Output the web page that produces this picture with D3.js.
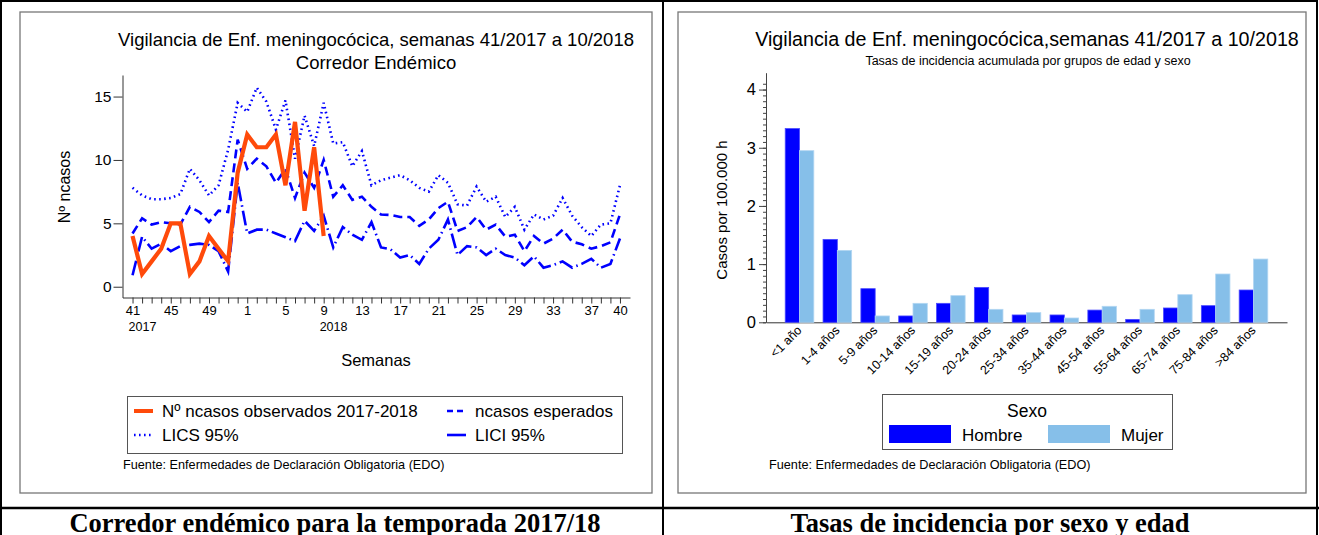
<!DOCTYPE html>
<html>
<head>
<meta charset="utf-8">
<script src="https://cdn.jsdelivr.net/npm/d3@7"></script>
<style>
  body { margin: 0; background: #fff; }
  svg { display: block; font-family: "Liberation Sans", Arial, sans-serif; }
</style>
</head>
<body>
<div id="chart"></div>
<script>
// semanas 41/2017 a 40/2018
var weeks = ["41","42","43","44","45","46","47","48","49","50","51","52",
  "1","2","3","4","5","6","7","8","9","10","11","12","13","14","15","16","17","18","19","20",
  "21","22","23","24","25","26","27","28","29","30","31","32","33","34","35","36","37","38","39","40"];
var weekLabels = ["41","45","49","1","5","9","13","17","21","25","29","33","37","40"];

// casos observados (semanas 41/2017 a 9/2018)
var observados = [4,1,2,3,5,5,1,2,4,3,2,9,12,11,11,12,8,13,6,11,4];
// casos esperados
var esperados = [4.2,5.4,4.9,5.1,5.0,4.9,6.3,5.9,5.1,6.0,5.9,11.6,9.3,10.1,9.5,8.2,9.3,7.0,9.0,7.8,10.0,
  7.1,8.0,6.85,7.1,6.3,5.7,5.66,5.5,5.5,4.8,5.3,6.2,6.7,4.4,4.7,5.5,4.5,4.9,3.95,4.1,2.8,4.0,3.4,3.8,4.5,3.55,3.35,3.0,3.2,3.5,5.7];
// limite superior IC 95%
var lics = [7.8,7.2,6.9,6.9,7.0,7.3,9.3,8.4,7.2,8.0,10.8,14.5,13.8,15.7,14.6,12.4,14.7,10.1,13.5,11.1,14.5,
  11.3,11.4,9.5,10.7,8.0,8.4,8.6,8.8,8.4,7.8,7.5,8.8,8.2,6.5,6.4,7.9,6.7,7.1,5.5,6.3,4.5,5.7,5.3,5.6,7.0,5.6,4.7,4.0,4.9,5.0,8.0];
// limite inferior IC 95%
var lici = [0.9,3.95,3.0,3.4,2.8,3.2,3.3,3.4,3.3,2.8,1.2,8.2,4.2,4.5,4.5,4.2,3.9,3.6,5.2,4.4,5.6,
  3.1,4.7,4.1,3.7,5.1,3.1,2.95,2.3,2.5,1.8,3.0,3.7,5.3,2.5,3.2,3.1,2.5,3.0,2.5,2.3,1.7,2.4,1.5,1.7,2.0,1.5,1.8,2.2,1.5,1.8,3.8];

// tasas por grupos de edad y sexo
var edades = ["<1 año","1-4 años","5-9 años","10-14 años","15-19 años","20-24 años","25-34 años",
  "35-44 años","45-54 años","55-64 años","65-74 años","75-84 años",">84 años"];
var hombre = [3.33,1.425,0.578,0.109,0.326,0.60,0.126,0.126,0.21,0.05,0.246,0.286,0.555];
var mujer = [2.95,1.236,0.109,0.326,0.458,0.223,0.166,0.074,0.275,0.223,0.475,0.83,1.087];
var sexos = ["Hombre","Mujer"];

var width = 1319;
var height = 535;
var blue = "#0000ff";
var lightBlue = "#86bfe9";
var orange = "#ff4a0a";

var svg = d3.select("#chart")
  .append("svg")
  .attr("width", width)
  .attr("height", height);

// table frame
svg.append("rect").attr("x", 1).attr("y", 1).attr("width", width - 3).attr("height", height + 5)
  .attr("fill", "none").attr("stroke", "#000").attr("stroke-width", 2);
svg.append("line").attr("x1", 663).attr("x2", 663).attr("y1", 0).attr("y2", height)
  .attr("stroke", "#000").attr("stroke-width", 2);
svg.append("line").attr("x1", 0).attr("x2", width).attr("y1", 508).attr("y2", 508)
  .attr("stroke", "#000").attr("stroke-width", 2.5);

// panels
svg.append("rect").attr("x", 20).attr("y", 12).attr("width", 632).attr("height", 481)
  .attr("fill", "#fff").attr("stroke", "#777").attr("stroke-width", 1.3);
svg.append("rect").attr("x", 678).attr("y", 12).attr("width", 628).attr("height", 481)
  .attr("fill", "#fff").attr("stroke", "#777").attr("stroke-width", 1.3);

// captions
svg.append("text").attr("x", 335).attr("y", 532).attr("text-anchor", "middle")
  .style("font-family", "'Liberation Serif', 'Times New Roman', serif")
  .style("font-weight", "bold").style("font-size", "26.5px")
  .text("Corredor endémico para la temporada 2017/18");
svg.append("text").attr("x", 990).attr("y", 532).attr("text-anchor", "middle")
  .style("font-family", "'Liberation Serif', 'Times New Roman', serif")
  .style("font-weight", "bold").style("font-size", "26.5px")
  .text("Tasas de incidencia por sexo y edad");

// ---------- left chart: corredor endemico ----------
var x = d3.scalePoint()
  .domain(weeks)
  .range([122.5, 630])
  .padding(1.05);
var y = d3.scaleLinear()
  .domain([-0.85, 16.7])
  .range([297.5, 75]);

var left = svg.append("g");

left.append("text").attr("x", 376).attr("y", 46).attr("text-anchor", "middle")
  .style("font-size", "18.5px").text("Vigilancia de Enf. meningocócica, semanas 41/2017 a 10/2018");
left.append("text").attr("x", 376).attr("y", 69).attr("text-anchor", "middle")
  .style("font-size", "18.5px").text("Corredor Endémico");

var xAxis = d3.axisBottom(x)
  .tickValues(weeks)
  .tickSize(6)
  .tickSizeOuter(0)
  .tickPadding(2)
  .tickFormat(d => weekLabels.includes(d) ? d : "");
left.append("g")
  .attr("transform", "translate(0,297.5)")
  .call(xAxis)
  .call(g => g.selectAll("text").style("font-size", "13px").attr("fill", "#000"))
  .call(g => g.selectAll("line, path").attr("stroke", "#333"));

var yAxis = d3.axisLeft(y)
  .tickValues([0, 5, 10, 15])
  .tickSize(9)
  .tickSizeOuter(0)
  .tickPadding(2);
left.append("g")
  .attr("transform", "translate(122.5,0)")
  .call(yAxis)
  .call(g => g.selectAll("text").style("font-size", "15.5px").attr("fill", "#000"))
  .call(g => g.selectAll("line, path").attr("stroke", "#333"));

// year labels under the axis
left.append("text").attr("x", x("41") - 4).attr("y", 331).style("font-size", "12.5px").text("2017");
left.append("text").attr("x", x("9") - 4).attr("y", 331).style("font-size", "12.5px").text("2018");

left.append("text").attr("x", 376).attr("y", 366).attr("text-anchor", "middle")
  .style("font-size", "16.5px").text("Semanas");
left.append("text").attr("transform", "translate(70,187) rotate(-90)").attr("text-anchor", "middle")
  .style("font-size", "16px").text("Nº ncasos");

var line = d3.line()
  .x((d, i) => x(weeks[i]))
  .y(d => y(d));

left.append("path").datum(lics).attr("d", line).attr("fill", "none")
  .attr("stroke", blue).attr("stroke-width", 2.6).attr("stroke-dasharray", "1.6,3.4");
left.append("path").datum(esperados).attr("d", line).attr("fill", "none")
  .attr("stroke", blue).attr("stroke-width", 2.6).attr("stroke-dasharray", "9,5");
left.append("path").datum(lici).attr("d", line).attr("fill", "none")
  .attr("stroke", blue).attr("stroke-width", 2.6).attr("stroke-dasharray", "15,4,1.5,4");
left.append("path").datum(observados).attr("d", line).attr("fill", "none")
  .attr("stroke", orange).attr("stroke-width", 4.2).attr("stroke-linejoin", "miter");

// legend
var leg = left.append("g");
leg.append("rect").attr("x", 127.5).attr("y", 396.5).attr("width", 495).attr("height", 57)
  .attr("fill", "#fff").attr("stroke", "#555");
var legItems = [
  { label: "Nº ncasos observados 2017-2018", color: orange, w: 4, dash: null, lx: 134, ly: 411 },
  { label: "ncasos esperados", color: blue, w: 2.6, dash: "6,4", lx: 447, ly: 411 },
  { label: "LICS 95%", color: blue, w: 2.6, dash: "1.6,3.4", lx: 134, ly: 435 },
  { label: "LICI 95%", color: blue, w: 2.6, dash: null, lx: 447, ly: 435 }
];
legItems.forEach(function (d) {
  leg.append("line").attr("x1", d.lx).attr("x2", d.lx + 19).attr("y1", d.ly).attr("y2", d.ly)
    .attr("stroke", d.color).attr("stroke-width", d.w).attr("stroke-dasharray", d.dash);
  leg.append("text").attr("x", d.lx + 28).attr("y", d.ly + 6).style("font-size", "17px").text(d.label);
});
left.append("text").attr("x", 123).attr("y", 469).style("font-size", "12.7px")
  .text("Fuente: Enfermedades de Declaración Obligatoria (EDO)");

// ---------- right chart: tasas por edad y sexo ----------
var xb = d3.scaleBand()
  .domain(edades)
  .range([766, 1287])
  .paddingInner(0.244)
  .paddingOuter(0.508);
var xs = d3.scaleBand()
  .domain(sexos)
  .range([0, xb.bandwidth()]);
var yb = d3.scaleLinear()
  .domain([0, 4.29])
  .range([322.3, 72.7]);

var right = svg.append("g");

right.append("text").attr("x", 1027).attr("y", 46).attr("text-anchor", "middle")
  .style("font-size", "19.7px").text("Vigilancia de Enf. meningocócica,semanas 41/2017 a 10/2018");
right.append("text").attr("x", 1028).attr("y", 65).attr("text-anchor", "middle")
  .style("font-size", "12.5px").text("Tasas de incidencia acumulada por grupos de edad y sexo");

// minor ticks
right.append("g")
  .attr("transform", "translate(766,0)")
  .call(d3.axisLeft(yb).tickValues(d3.range(0, 42).map(d => d / 10)).tickSize(3).tickFormat(""))
  .call(g => g.select("path").remove())
  .call(g => g.selectAll("line").attr("stroke", "#444"));
right.append("g")
  .attr("transform", "translate(766,0)")
  .call(d3.axisLeft(yb).tickValues([0, 1, 2, 3, 4]).tickFormat(d3.format("d"))
    .tickSize(7).tickSizeOuter(0).tickPadding(3))
  .call(g => g.selectAll("text").style("font-size", "16.5px").attr("fill", "#000"))
  .call(g => g.selectAll("line, path").attr("stroke", "#444"));

right.append("g")
  .attr("transform", "translate(0,322.3)")
  .call(d3.axisBottom(xb).tickSize(0).tickSizeOuter(0).tickFormat(""))
  .call(g => g.select("path").attr("stroke", "#333"));

right.selectAll(".xlab")
  .data(edades)
  .enter()
  .append("text")
  .attr("class", "xlab")
  .attr("text-anchor", "end")
  .attr("transform", d => `translate(${xb(d) + xb.bandwidth() / 2 + 3},${331}) rotate(-45)`)
  .style("font-size", "12.5px")
  .text(d => d);

right.append("text").attr("transform", "translate(727,210) rotate(-90)").attr("text-anchor", "middle")
  .style("font-size", "15px").text("Casos por 100.000 h");

var groups = right.selectAll(".grp")
  .data(edades.map((d, i) => ({ edad: d, values: [hombre[i], mujer[i]] })))
  .enter()
  .append("g")
  .attr("transform", d => `translate(${xb(d.edad)},0)`);
groups.selectAll("rect")
  .data(d => d.values.map((v, j) => ({ sexo: sexos[j], v: v })))
  .enter()
  .append("rect")
  .attr("x", d => xs(d.sexo))
  .attr("y", d => yb(d.v))
  .attr("width", xs.bandwidth())
  .attr("height", d => yb(0) - yb(d.v))
  .attr("fill", d => d.sexo === "Hombre" ? blue : lightBlue)
  .attr("stroke", d => d.sexo === "Hombre" ? "#4a4aff" : "#b2d6f2")
  .attr("stroke-width", 0.8);

// legend
var leg2 = right.append("g");
leg2.append("rect").attr("x", 882.5).attr("y", 394.5).attr("width", 290).attr("height", 55)
  .attr("fill", "#fff").attr("stroke", "#555");
leg2.append("text").attr("x", 1027).attr("y", 417).attr("text-anchor", "middle")
  .style("font-size", "17.5px").text("Sexo");
sexos.forEach(function (s, i) {
  var sx = i === 0 ? 889 : 1048;
  leg2.append("rect").attr("x", sx).attr("y", 425).attr("width", 62).attr("height", 18)
    .attr("fill", i === 0 ? blue : lightBlue);
  leg2.append("text").attr("x", sx + 73).attr("y", 441).style("font-size", "17px").text(s);
});
right.append("text").attr("x", 769).attr("y", 469).style("font-size", "12.7px")
  .text("Fuente: Enfermedades de Declaración Obligatoria (EDO)");
</script>
</body>
</html>
